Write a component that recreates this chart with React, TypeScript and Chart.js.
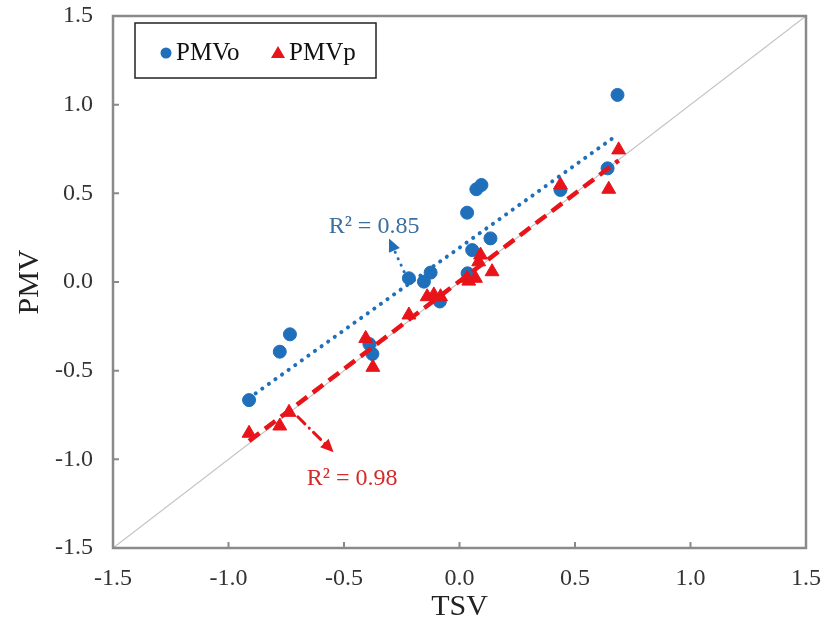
import React, { useEffect, useRef } from "react";
import { Chart, registerables } from "chart.js";

Chart.register(...registerables);

// Observed PMV (PMVo) vs TSV
const tsvO = [-0.911, -0.778, -0.734, -0.39, -0.377, -0.219, -0.154, -0.125, -0.085, 0.033, 0.073, 0.095, 0.055, 0.134, 0.035, 0.437, 0.641, 0.684];
const pmvO = [-0.666, -0.393, -0.295, -0.35, -0.406, 0.021, 0.002, 0.053, -0.11, 0.391, 0.523, 0.547, 0.18, 0.246, 0.049, 0.519, 0.641, 1.055];
// Predicted PMV (PMVp) vs TSV
const tsvP = [-0.911, -0.778, -0.738, -0.406, -0.375, -0.219, -0.14, -0.111, -0.082, 0.033, 0.04, 0.069, 0.083, 0.091, 0.141, 0.437, 0.646, 0.689];
const pmvP = [-0.853, -0.812, -0.735, -0.318, -0.481, -0.186, -0.083, -0.073, -0.083, 0.021, 0.005, 0.021, 0.114, 0.152, 0.058, 0.547, 0.523, 0.745];

const axisTicks = [-1.5, -1.0, -0.5, 0.0, 0.5, 1.0, 1.5];
const diagonal = [-1.5, 1.5];
const seriesNames = ["PMVo", "PMVp"];
const r2Labels = ["R\u00B2 = 0.85", "R\u00B2 = 0.98"];
// annotation anchors in data units: [text x, text y, arrow start x, start y, arrow tip x, tip y]
const blueNote = [-0.37, 0.31, -0.24, 0.058, -0.305, 0.245];
const redNote = [-0.465, -1.11, -0.7, -0.76, -0.545, -0.96];

const BLUE = "#1f6fba";
const RED = "#e8141a";
const SERIF = "'Liberation Serif', 'Times New Roman', serif";

function fit(xs: number[], ys: number[]) {
  const n = xs.length;
  const mx = xs.reduce((a, b) => a + b, 0) / n;
  const my = ys.reduce((a, b) => a + b, 0) / n;
  let sxy = 0, sxx = 0;
  for (let i = 0; i < n; i++) {
    sxy += (xs[i] - mx) * (ys[i] - my);
    sxx += (xs[i] - mx) * (xs[i] - mx);
  }
  const slope = sxy / sxx;
  const icpt = my - slope * mx;
  const x0 = Math.min(...xs), x1 = Math.max(...xs);
  return [
    { x: x0, y: icpt + slope * x0 },
    { x: x1, y: icpt + slope * x1 },
  ];
}

function arrowHead(ctx: CanvasRenderingContext2D, x0: number, y0: number, x1: number, y1: number, color: string) {
  const ang = Math.atan2(y1 - y0, x1 - x0);
  const len = 13, half = 6;
  ctx.save();
  ctx.fillStyle = color;
  ctx.translate(x1, y1);
  ctx.rotate(ang);
  ctx.beginPath();
  ctx.moveTo(0, 0);
  ctx.lineTo(-len, -half);
  ctx.lineTo(-len, half);
  ctx.closePath();
  ctx.fill();
  ctx.restore();
}

const decorPlugin = {
  id: "decor",
  afterDatasetsDraw(chart: any) {
    const { ctx, chartArea: a, scales } = chart;
    const xs = scales.x, ys = scales.y;
    ctx.save();
    // frame
    ctx.strokeStyle = "#8a8a8a";
    ctx.lineWidth = 2.5;
    ctx.strokeRect(a.left, a.top, a.right - a.left, a.bottom - a.top);
    // inside ticks
    ctx.lineWidth = 2;
    ctx.beginPath();
    axisTicks.slice(1, -1).forEach((v) => {
      const py = ys.getPixelForValue(v);
      ctx.moveTo(a.left, py);
      ctx.lineTo(a.left + 6, py);
      const px = xs.getPixelForValue(v);
      ctx.moveTo(px, a.bottom);
      ctx.lineTo(px, a.bottom - 6);
    });
    ctx.stroke();

    // annotations
    const notes = [
      { d: blueNote, line: BLUE, dash: [0.1, 7], text: r2Labels[0], textColor: "#3a6fa0" },
      { d: redNote, line: RED, dash: [10, 6, 0.1, 6], text: r2Labels[1], textColor: "#d42a2a" },
    ];
    notes.forEach((n) => {
      const tx = xs.getPixelForValue(n.d[0]);
      const ty = ys.getPixelForValue(n.d[1]);
      const sx = xs.getPixelForValue(n.d[2]);
      const sy = ys.getPixelForValue(n.d[3]);
      const ex = xs.getPixelForValue(n.d[4]);
      const ey = ys.getPixelForValue(n.d[5]);
      ctx.save();
      ctx.strokeStyle = n.line;
      ctx.lineWidth = 3;
      ctx.lineCap = "round";
      ctx.setLineDash(n.dash);
      const ang = Math.atan2(ey - sy, ex - sx);
      ctx.beginPath();
      ctx.moveTo(sx, sy);
      ctx.lineTo(ex - Math.cos(ang) * 10, ey - Math.sin(ang) * 10);
      ctx.stroke();
      ctx.restore();
      arrowHead(ctx, sx, sy, ex, ey, n.line);
      ctx.fillStyle = n.textColor;
      ctx.font = `24px ${SERIF}`;
      ctx.textAlign = "center";
      ctx.textBaseline = "middle";
      ctx.fillText(n.text, tx, ty);
    });

    // legend box
    const bx = a.left + 22, by = a.top + 7, bw = 241, bh = 55;
    ctx.fillStyle = "#ffffff";
    ctx.fillRect(bx, by, bw, bh);
    ctx.strokeStyle = "#222";
    ctx.lineWidth = 1.5;
    ctx.setLineDash([]);
    ctx.strokeRect(bx, by, bw, bh);
    const cy = by + 30;
    ctx.fillStyle = BLUE;
    ctx.beginPath();
    ctx.arc(bx + 31, cy, 5.5, 0, Math.PI * 2);
    ctx.fill();
    ctx.fillStyle = RED;
    ctx.beginPath();
    ctx.moveTo(bx + 143, cy - 7);
    ctx.lineTo(bx + 150, cy + 5);
    ctx.lineTo(bx + 136, cy + 5);
    ctx.closePath();
    ctx.fill();
    ctx.fillStyle = "#111";
    ctx.font = `25px ${SERIF}`;
    ctx.textAlign = "left";
    ctx.textBaseline = "middle";
    ctx.fillText(seriesNames[0], bx + 41, cy);
    ctx.fillText(seriesNames[1], bx + 154, cy);
    ctx.restore();
  },
};

export default function App() {
  const ref = useRef<HTMLCanvasElement | null>(null);
  useEffect(() => {
    if (!ref.current) return;
    const ptsO = tsvO.map((x, i) => ({ x, y: pmvO[i] }));
    const ptsP = tsvP.map((x, i) => ({ x, y: pmvP[i] }));
    const chart = new Chart(ref.current, {
      type: "scatter",
      data: {
        datasets: [
          {
            type: "line",
            label: "y = x",
            data: diagonal.map((v) => ({ x: v, y: v })),
            borderColor: "#c4c4c4",
            borderWidth: 1.2,
            pointRadius: 0,
            order: 5,
          } as any,
          {
            label: seriesNames[0],
            data: ptsO,
            backgroundColor: BLUE,
            borderColor: BLUE,
            pointRadius: 6.5,
            pointStyle: "circle",
            order: 4,
          },
          {
            label: seriesNames[1],
            data: ptsP,
            backgroundColor: RED,
            borderColor: RED,
            pointRadius: 8,
            pointStyle: "triangle",
            order: 3,
          },
          {
            type: "line",
            label: "fitO",
            data: fit(tsvO, pmvO),
            borderColor: BLUE,
            borderWidth: 4,
            borderDash: [0.1, 8],
            borderCapStyle: "round",
            pointRadius: 0,
            order: 2,
          } as any,
          {
            type: "line",
            label: "fitP",
            data: fit(tsvP, pmvP),
            borderColor: RED,
            borderWidth: 4.5,
            borderDash: [13, 7],
            pointRadius: 0,
            order: 1,
          } as any,
        ],
      },
      options: {
        animation: false,
        responsive: false,
        layout: { padding: { top: 16, right: 22, left: 0, bottom: 0 } },
        plugins: { legend: { display: false }, tooltip: { enabled: false } },
        scales: {
          x: {
            type: "linear",
            min: -1.5,
            max: 1.5,
            grid: { display: false, drawTicks: false },
            border: { display: false },
            ticks: {
              stepSize: 0.5,
              padding: 16,
              color: "#333",
              font: { family: SERIF, size: 24 },
              callback: (v: any) => Number(v).toFixed(1),
            },
            title: {
              display: true,
              text: "TSV",
              color: "#222",
              font: { family: SERIF, size: 30 },
              padding: { top: 0, bottom: 5 },
            },
            afterFit: (s: any) => {
              s.height = 82;
              s.paddingLeft = 0;
              s.paddingRight = 0;
            },
          },
          y: {
            type: "linear",
            min: -1.5,
            max: 1.5,
            grid: { display: false, drawTicks: false },
            border: { display: false },
            ticks: {
              stepSize: 0.5,
              padding: 20,
              color: "#333",
              font: { family: SERIF, size: 24 },
              callback: (v: any) => Number(v).toFixed(1),
            },
            title: {
              display: true,
              text: "PMV",
              color: "#222",
              font: { family: SERIF, size: 30 },
              padding: { top: 12, bottom: 0 },
            },
            afterFit: (s: any) => {
              s.width = 113;
              s.paddingTop = 0;
              s.paddingBottom = 0;
            },
          },
        },
      },
      plugins: [decorPlugin],
    });
    return () => chart.destroy();
  }, []);
  return (
    <div style={{ position: "fixed", left: 0, top: 0, width: 828, height: 630, background: "#fff" }}>
      <canvas ref={ref} width={828} height={630} />
    </div>
  );
}
